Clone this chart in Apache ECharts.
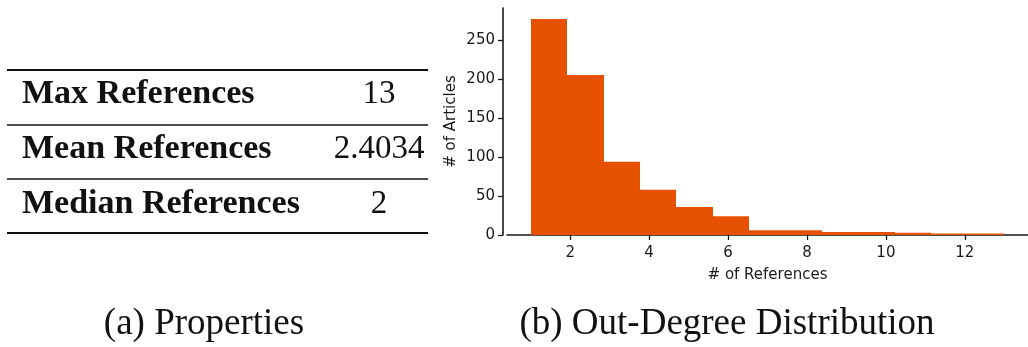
<!DOCTYPE html>
<html>
<head>
<meta charset="utf-8">
<script src="https://cdn.jsdelivr.net/npm/echarts@6/dist/echarts.min.js"></script>
<style>
  html, body { margin: 0; padding: 0; background: #fff; }
  #main { width: 1028px; height: 347px; }
</style>
</head>
<body>
<div id="main"></div>
<script>
// histogram: 13 bins between 1 and 13 references
var binMin = 1;
var binMax = 13;
var counts = [277, 205, 94, 58, 36, 24, 6, 6, 4, 4, 3, 2, 2];

var xTicks = [2, 4, 6, 8, 10, 12];
var yTicks = [0, 50, 100, 150, 200, 250];

// table (a)
var propNames = ['Max References', 'Mean References', 'Median References'];
var propValues = ['13', '2.4034', '2'];

var captions = ['(a) Properties', '(b) Out-Degree Distribution'];

var myChart = echarts.init(document.getElementById('main'));

var binWidth = (binMax - binMin) / counts.length;
var histData = counts.map(function (c, i) {
    return [binMin + i * binWidth, binMin + (i + 1) * binWidth, c];
});

var barColor = '#e65100';
var axisColor = '#1a1a1a';
var sans = 'DejaVu Sans';
var serif = 'Liberation Serif';

// table drawn as graphic elements
var graphics = [];
var rowLines = [70, 125, 179, 233];
var rowMid = [94, 149, 204];
rowLines.forEach(function (y, i) {
    var thick = (i === 0 || i === rowLines.length - 1);
    graphics.push({
        type: 'line',
        shape: { x1: 7, y1: y, x2: 428, y2: y },
        style: { stroke: '#111', lineWidth: thick ? 2.2 : 1.3 }
    });
});
propNames.forEach(function (name, i) {
    graphics.push({
        type: 'text', x: 22, y: rowMid[i],
        style: { text: name, font: 'bold 34px ' + serif, fill: '#111',
                 textAlign: 'left', textVerticalAlign: 'middle' }
    });
    graphics.push({
        type: 'text', x: 379, y: rowMid[i],
        style: { text: propValues[i], font: '33px ' + serif, fill: '#111',
                 textAlign: 'center', textVerticalAlign: 'middle' }
    });
});
[204, 727].forEach(function (cx, i) {
    graphics.push({
        type: 'text', x: cx, y: 324,
        style: { text: captions[i], font: '37px ' + serif, fill: '#111',
                 textAlign: 'center', textVerticalAlign: 'middle' }
    });
});

var option = {
    animation: false,
    backgroundColor: '#fff',
    grid: { left: 507, top: 8, width: 524, height: 227 },
    xAxis: {
        type: 'value',
        min: 0.4,
        max: 13.6,
        offset: 3,
        name: '# of References',
        nameLocation: 'middle',
        nameGap: 30,
        nameMoveOverlap: false,
        nameTextStyle: { fontFamily: sans, fontSize: 15, color: axisColor },
        splitLine: { show: false },
        axisLine: { show: true, lineStyle: { color: axisColor, width: 1.6 } },
        axisTick: { show: true, length: 5, customValues: xTicks,
                    lineStyle: { color: axisColor, width: 1.3 } },
        axisLabel: { customValues: xTicks, margin: 8, fontFamily: sans,
                     fontSize: 15, color: axisColor }
    },
    yAxis: {
        type: 'value',
        min: 0,
        max: 291,
        offset: 4,
        name: '# of Articles',
        nameLocation: 'middle',
        nameGap: 44,
        nameMoveOverlap: false,
        nameTextStyle: { fontFamily: sans, fontSize: 15, color: axisColor },
        splitLine: { show: false },
        axisLine: { show: true, lineStyle: { color: axisColor, width: 1.6 } },
        axisTick: { show: true, length: 5, customValues: yTicks,
                    lineStyle: { color: axisColor, width: 1.3 } },
        axisLabel: { customValues: yTicks, margin: 8, fontFamily: sans,
                     fontSize: 15, color: axisColor }
    },
    series: [{
        type: 'custom',
        data: histData,
        encode: { x: [0, 1], y: 2 },
        renderItem: function (params, api) {
            var p0 = api.coord([api.value(0), 0]);
            var p1 = api.coord([api.value(1), api.value(2)]);
            var x0 = Math.round(p0[0]);
            var x1 = Math.round(p1[0]);
            return {
                type: 'rect',
                shape: { x: x0, y: p1[1], width: x1 - x0, height: p0[1] - p1[1] },
                style: { fill: barColor }
            };
        }
    }],
    graphic: graphics
};

myChart.setOption(option);
</script>
</body>
</html>
